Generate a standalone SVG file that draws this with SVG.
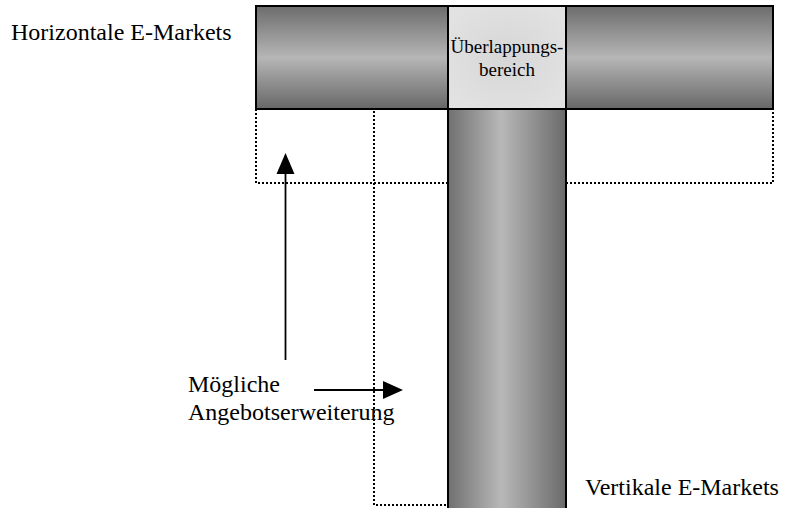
<svg xmlns="http://www.w3.org/2000/svg" width="786" height="508" viewBox="0 0 786 508">
  <defs>
    <linearGradient id="gradH" x1="0" y1="0" x2="0" y2="1">
      <stop offset="0" stop-color="#6c6c6c"/>
      <stop offset="0.5" stop-color="#b6b6b6"/>
      <stop offset="1" stop-color="#676767"/>
    </linearGradient>
    <linearGradient id="gradV" x1="0" y1="0" x2="1" y2="0">
      <stop offset="0" stop-color="#707070"/>
      <stop offset="0.45" stop-color="#b8b8b8"/>
      <stop offset="1" stop-color="#6a6a6a"/>
    </linearGradient>
    <radialGradient id="gradO" cx="0.5" cy="0.5" r="0.6">
      <stop offset="0" stop-color="#d6d6d6"/>
      <stop offset="1" stop-color="#e2e2e2"/>
    </radialGradient>
  </defs>
  <style>
    .lbl { font-family: "Liberation Serif", "Times New Roman", serif; fill: #000; }
    .big { font-size: 24px; }
    .small { font-size: 19px; }
    .dotted { fill: none; stroke: #000; stroke-width: 2; stroke-dasharray: 2 2; }
    .bar { stroke: #000; stroke-width: 2; }
    .arrow { stroke: #000; stroke-width: 1.8; fill: none; }
    .head { fill: #000; }
  </style>

  <!-- possible extension areas (dotted outlines) -->
  <g id="extension-horizontal">
    <rect class="dotted" x="256" y="109" width="517" height="74"/>
  </g>
  <g id="extension-vertical">
    <rect class="dotted" x="374" y="109" width="74" height="396"/>
  </g>

  <!-- vertical market bar -->
  <g id="vertical-market">
    <rect class="bar" x="448" y="109" width="118" height="400" fill="url(#gradV)"/>
  </g>

  <!-- horizontal market bar -->
  <g id="horizontal-market">
    <rect class="bar" x="256" y="6" width="517" height="103" fill="url(#gradH)"/>
  </g>

  <!-- overlap area -->
  <g id="overlap">
    <rect class="bar" x="448" y="6" width="118" height="103" fill="url(#gradO)"/>
    <text class="lbl small" x="507" y="53" text-anchor="middle">Überlappungs-</text>
    <text class="lbl small" x="507" y="76" text-anchor="middle">bereich</text>
  </g>

  <!-- labels -->
  <g id="label-horizontal">
    <text class="lbl big" x="11" y="40">Horizontale E-Markets</text>
  </g>
  <g id="label-vertical">
    <text class="lbl big" x="585" y="495">Vertikale E-Markets</text>
  </g>
  <g id="label-extension">
    <text class="lbl big" x="188" y="392">Mögliche</text>
    <text class="lbl big" x="188" y="420">Angebotserweiterung</text>
  </g>

  <!-- connectors -->
  <g id="connectors">
    <line class="arrow" x1="285.5" y1="360" x2="285.5" y2="172"/>
    <path class="head" d="M285.5,153 L294.5,174 L276.5,174 Z"/>
    <line class="arrow" x1="314" y1="390" x2="385" y2="390"/>
    <path class="head" d="M403,390 L383,381 L383,399 Z"/>
  </g>
</svg>
